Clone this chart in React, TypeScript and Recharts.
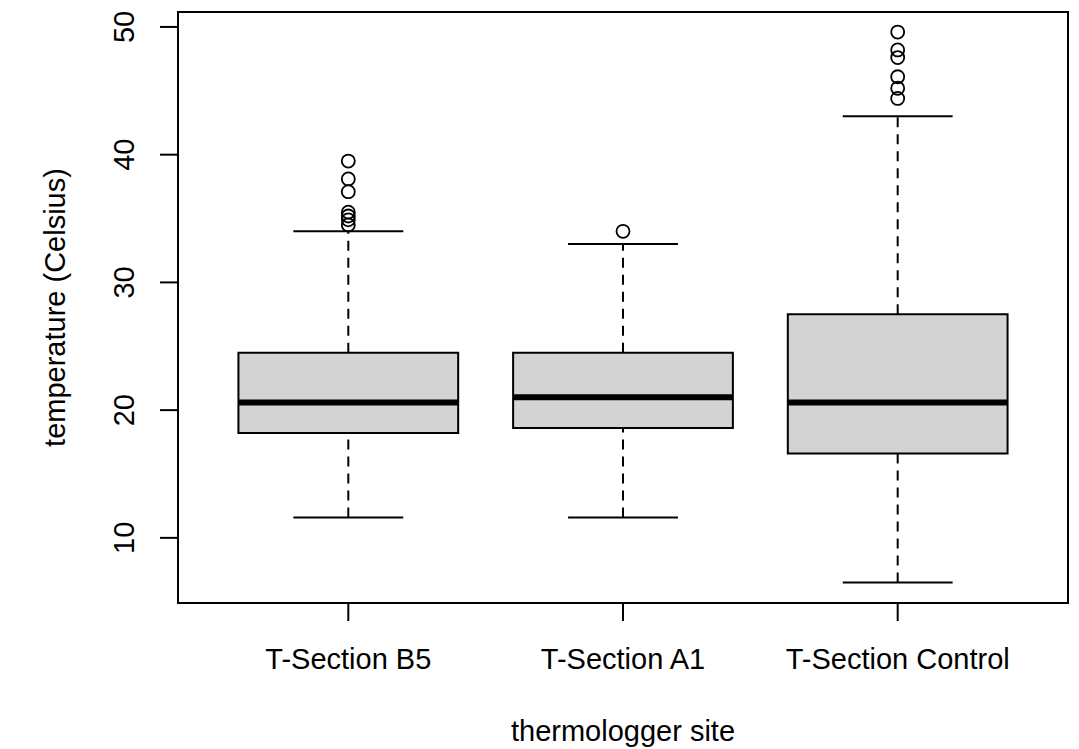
import React from 'react';
import {
  ComposedChart,
  XAxis,
  YAxis,
  ReferenceArea,
  ReferenceLine,
  Scatter,
  Label,
} from 'recharts';

const categories = ['T-Section B5', 'T-Section A1', 'T-Section Control'];
const lowerWhisker = [11.6, 11.6, 6.5];
const q1 = [18.2, 18.6, 16.6];
const median = [20.6, 21.0, 20.6];
const q3 = [24.5, 24.5, 27.5];
const upperWhisker = [34.0, 33.0, 43.0];
const outliersB5 = [39.5, 38.1, 37.1, 35.5, 35.2, 34.9, 34.5];
const outliersA1 = [34.0];
const outliersControl = [49.6, 48.2, 47.6, 46.1, 45.2, 44.4];
const yTicks = [10, 20, 30, 40, 50];

const outlierLists = [outliersB5, outliersA1, outliersControl];
const outlierData = outlierLists.flatMap((list, i) =>
  list.map((v) => ({ x: i + 1, y: v }))
);

const X_DOMAIN: [number, number] = [0.38, 3.62];
const Y_DOMAIN: [number, number] = [4.9, 51.17];
const FONT = '"Liberation Sans", Arial, sans-serif';
const FS = 29;
const BOX_HALF = 0.4;
const CAP_HALF = 0.2;
const LW = 2;

const XTick = (props: any) => {
  const { x, y, payload } = props;
  return (
    <text x={x} y={y + 48} textAnchor="middle" fontSize={FS} fontFamily={FONT} fill="#000">
      {categories[payload.value - 1]}
    </text>
  );
};

const YTick = (props: any) => {
  const { x, y, payload } = props;
  const bx = x - 26;
  return (
    <text
      x={bx}
      y={y}
      transform={`rotate(-90, ${bx}, ${y})`}
      textAnchor="middle"
      fontSize={FS}
      fontFamily={FONT}
      fill="#000"
    >
      {payload.value}
    </text>
  );
};

const OutlierShape = (props: any) => {
  const { cx, cy } = props;
  return <circle cx={cx} cy={cy} r={6.5} fill="none" stroke="#000" strokeWidth={1.8} />;
};

export default function App() {
  return (
    <div style={{ position: 'absolute', left: 0, top: 0, background: '#fff' }}>
      <ComposedChart
        width={1079}
        height={749}
        margin={{ top: 12, right: 11, bottom: 0, left: 0 }}
      >
        <XAxis
          type="number"
          dataKey="x"
          domain={X_DOMAIN}
          allowDataOverflow
          ticks={[1, 2, 3]}
          height={146}
          axisLine={false}
          tickLine={{ stroke: '#000', strokeWidth: LW }}
          tickSize={18}
          tickMargin={0}
          tick={<XTick />}
          interval={0}
        >
          <Label
            content={(p: any) => {
              const vb = p.viewBox || { x: 178, y: 603, width: 890 };
              return (
                <text
                  x={vb.x + vb.width / 2}
                  y={vb.y + 138}
                  textAnchor="middle"
                  fontSize={FS}
                  fontFamily={FONT}
                  fill="#000"
                >
                  thermologger site
                </text>
              );
            }}
          />
        </XAxis>
        <YAxis
          type="number"
          dataKey="y"
          domain={Y_DOMAIN}
          allowDataOverflow
          ticks={yTicks}
          width={178}
          axisLine={false}
          tickLine={{ stroke: '#000', strokeWidth: LW }}
          tickSize={18}
          tickMargin={0}
          tick={<YTick />}
          interval={0}
        >
          <Label
            content={(p: any) => {
              const vb = p.viewBox || { x: 0, y: 12, height: 591 };
              const cy = vb.y + vb.height / 2;
              const bx = 65;
              return (
                <text
                  x={bx}
                  y={cy}
                  transform={`rotate(-90, ${bx}, ${cy})`}
                  textAnchor="middle"
                  fontSize={FS}
                  fontFamily={FONT}
                  fill="#000"
                >
                  temperature (Celsius)
                </text>
              );
            }}
          />
        </YAxis>

        {categories.map((c, i) => {
          const cx = i + 1;
          return (
            <React.Fragment key={c}>
              <ReferenceLine
                segment={[{ x: cx, y: q3[i] }, { x: cx, y: upperWhisker[i] }]}
                stroke="#000"
                strokeWidth={LW}
                strokeDasharray="10 7"
              />
              <ReferenceLine
                segment={[{ x: cx, y: lowerWhisker[i] }, { x: cx, y: q1[i] }]}
                stroke="#000"
                strokeWidth={LW}
                strokeDasharray="10 7"
              />
              <ReferenceLine
                segment={[{ x: cx - CAP_HALF, y: upperWhisker[i] }, { x: cx + CAP_HALF, y: upperWhisker[i] }]}
                stroke="#000"
                strokeWidth={LW}
              />
              <ReferenceLine
                segment={[{ x: cx - CAP_HALF, y: lowerWhisker[i] }, { x: cx + CAP_HALF, y: lowerWhisker[i] }]}
                stroke="#000"
                strokeWidth={LW}
              />
              <ReferenceArea
                x1={cx - BOX_HALF}
                x2={cx + BOX_HALF}
                y1={q1[i]}
                y2={q3[i]}
                fill="#d3d3d3"
                fillOpacity={1}
                stroke="#000"
                strokeWidth={LW}
              />
              <ReferenceLine
                segment={[{ x: cx - BOX_HALF, y: median[i] }, { x: cx + BOX_HALF, y: median[i] }]}
                stroke="#000"
                strokeWidth={6}
              />
            </React.Fragment>
          );
        })}

        <ReferenceArea
          x1={X_DOMAIN[0]}
          x2={X_DOMAIN[1]}
          y1={Y_DOMAIN[0]}
          y2={Y_DOMAIN[1]}
          fill="none"
          stroke="#000"
          strokeWidth={LW}
        />

        <Scatter
          data={outlierData}
          dataKey="y"
          shape={<OutlierShape />}
          isAnimationActive={false}
        />
      </ComposedChart>
    </div>
  );
}
